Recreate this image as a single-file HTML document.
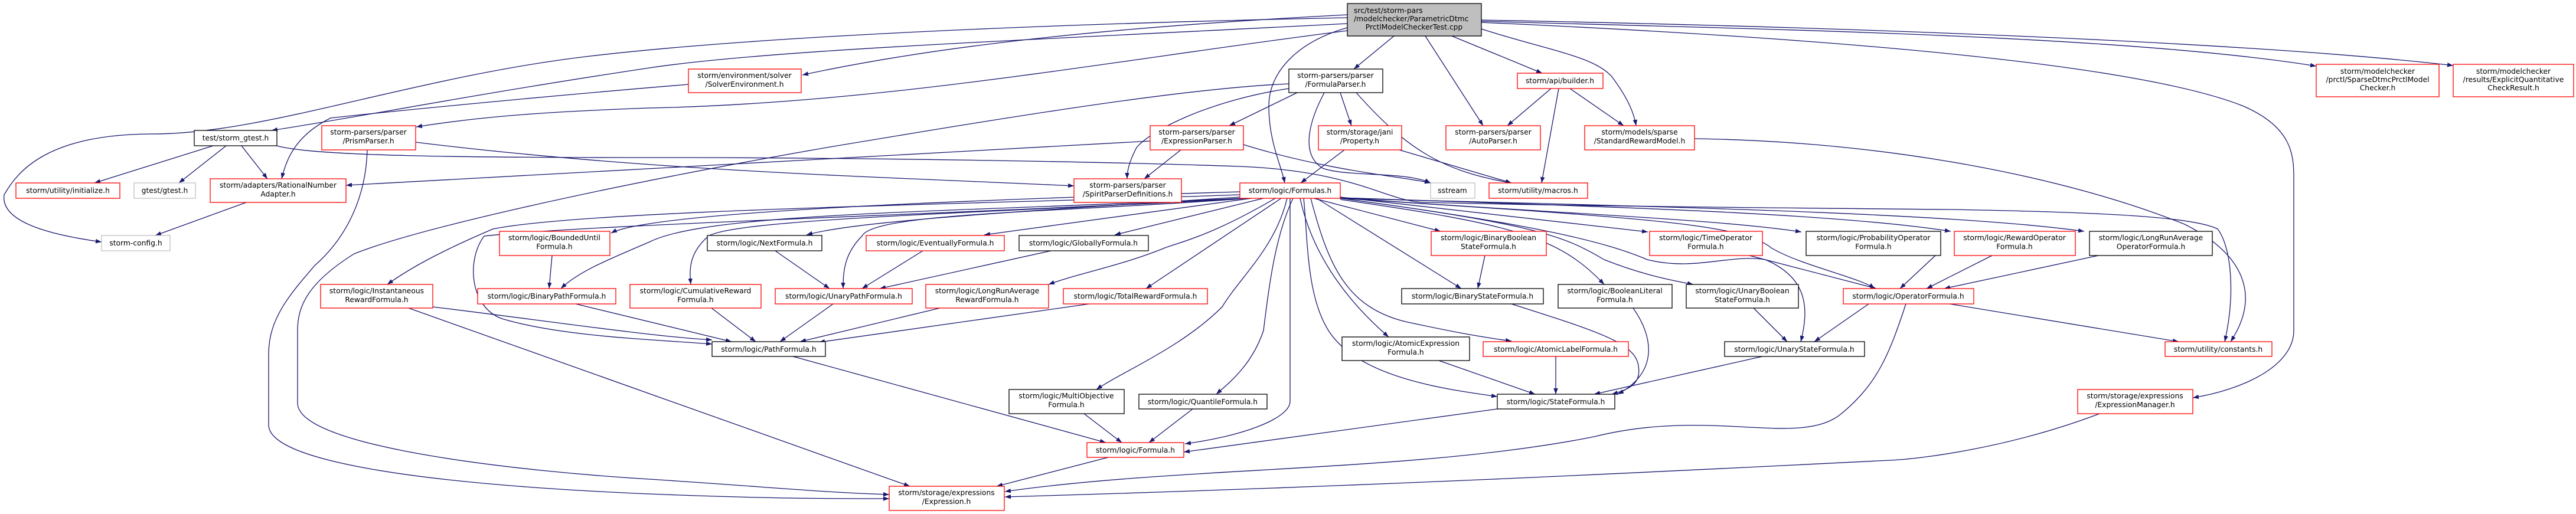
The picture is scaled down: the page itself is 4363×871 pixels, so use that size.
<!DOCTYPE html>
<html><head><meta charset="utf-8"><style>
html,body{margin:0;padding:0;background:#fff;}
svg{display:block;}
text{font-family:"DejaVu Sans","Liberation Sans",sans-serif;font-size:12.3px;fill:#000;}
.e{fill:none;stroke:#191970;stroke-width:1.3;marker-end:url(#a);}
.r{fill:#fff;stroke:#ff0000;stroke-width:1.3;}
.b{fill:#fff;stroke:#000;stroke-width:1.3;}
.g{fill:#fff;stroke:#bfbfbf;stroke-width:1.3;}
</style></head><body>
<svg width="4363" height="871" viewBox="0 0 4363 871" xmlns="http://www.w3.org/2000/svg">
<defs><marker id="a" markerUnits="userSpaceOnUse" markerWidth="11" markerHeight="8" refX="10" refY="3.7" orient="auto"><path d="M0,0 L10,3.7 L0,7.4 z" fill="#191970"/></marker></defs>
<g>
<!-- main edges -->
<path class="e" d="M2282,30 C1800,40 1300,60 1000,95 C700,130 450,227 260,227 C80,227 30,290 7,330 C0,380 100,400 172,410"/>
<path class="e" d="M2282,40 C1700,70 1300,85 1100,115 C800,160 600,200 460,221"/>
<path class="e" d="M2282,25 C1900,45 1600,75 1359,127"/>
<path class="e" d="M2282,52 C1900,100 1500,175 1100,183 C900,190 800,200 705,215"/>
<path class="e" d="M2282,47 C2200,70 2149,120 2149,180 C2149,240 2170,280 2176,310"/>
<path class="e" d="M2361,61 L2293,117"/>
<path class="e" d="M2414,61 L2512,213"/>
<path class="e" d="M2459,61 L2612,124"/>
<path class="e" d="M2509,49 C2620,85 2700,95 2730,130 C2760,170 2768,195 2771,213"/>
<path class="e" d="M2509,36 C3000,50 3600,60 3923,112"/>
<path class="e" d="M2509,34 C3100,45 3800,70 4155,111"/>
<path class="e" d="M2509,38 C3000,60 3600,100 3800,180 C3880,215 3885,260 3885,300 L3885,560 C3885,620 3800,660 3714,674"/>
<!-- parser edges -->
<path class="e" d="M2183,142 C2000,150 1700,200 1400,250 C1000,320 700,390 600,430 C520,480 504,520 504,560 L504,683 C504,760 900,800 1100,812 C1300,825 1400,835 1506,838"/>
<path class="e" d="M622,254 C620,330 590,400 533,450 C490,500 455,540 455,600 L455,720 C455,780 700,820 1100,837 C1300,845 1400,845 1506,845"/>
<path class="e" d="M2197,157 L2082,213"/>
<path class="e" d="M2183,150 C2050,170 1950,220 1925,250 C1912,275 1909,290 1909,303"/>
<path class="e" d="M2270,157 L2289,213"/>
<path class="e" d="M2243,157 C2220,200 2200,260 2240,285 C2280,300 2380,290 2423,310"/>
<path class="e" d="M2297,157 C2380,250 2440,290 2560,310"/>
<path class="e" d="M1948,239 C1700,255 1000,290 586,314"/>
<path class="e" d="M2000,254 L1938,303"/>
<path class="e" d="M2106,245 C2250,290 2380,300 2423,310"/>
<path class="e" d="M704,241 C1100,290 1500,300 1819,315"/>
<path class="e" d="M361,247 L160,310"/>
<path class="e" d="M383,247 L303,310"/>
<path class="e" d="M409,247 L453,303"/>
<path class="e" d="M469,247 C530,265 800,267 1100,267 C1500,267 1900,275 2100,282 C2300,290 2350,343 2415,343 C2700,350 3100,353 3300,355 C3600,360 3720,370 3756,388 C3780,420 3786,500 3768,579"/>
<path class="e" d="M417,343 L263,399"/>
<path class="e" d="M2277,254 L2203,310"/>
<path class="e" d="M2370,254 L2560,310"/>
<path class="e" d="M2627,150 L2553,213"/>
<path class="e" d="M2659,150 L2750,213"/>
<path class="e" d="M2640,150 L2611,310"/>
<path class="e" d="M2870,235 C3200,240 3500,300 3700,380 C3800,430 3830,500 3778,579"/>
<path class="e" d="M1166,143 C900,165 650,190 560,200 C500,230 485,270 477,303"/>
<!-- Formulas edges -->
<path class="e" d="M2100,325 C1600,340 1100,360 1035,395"/>
<path class="e" d="M2100,330 C1700,345 1000,355 835,388 C760,420 700,450 656,482"/>
<path class="e" d="M2105,336 C1600,360 1200,360 1100,410 C1030,440 980,460 950,489"/>
<path class="e" d="M2110,336 C1700,360 1000,380 820,400 C790,440 795,520 850,540 C950,570 1100,575 1206,583"/>
<path class="e" d="M2110,336 C1700,360 1250,370 1200,400 C1165,430 1168,460 1170,482"/>
<path class="e" d="M2115,336 C1800,360 1480,360 1460,400 C1430,430 1428,460 1428,489"/>
<path class="e" d="M2100,334 C1700,360 1450,375 1366,398"/>
<path class="e" d="M2120,336 L1667,398"/>
<path class="e" d="M2140,336 L1888,398"/>
<path class="e" d="M2160,336 C2050,400 2000,410 1973,420 C1900,450 1820,465 1776,482"/>
<path class="e" d="M2170,336 L1941,489"/>
<path class="e" d="M2180,336 C2160,420 2100,470 2070,520 C2000,590 1900,630 1857,660"/>
<path class="e" d="M2190,336 C2160,400 2150,480 2140,560 C2120,620 2080,650 2060,668"/>
<path class="e" d="M2185,336 L2185,680 C2185,710 2100,740 2007,752"/>
<path class="e" d="M2208,336 C2215,400 2212,500 2250,560 C2300,640 2450,660 2536,672"/>
<path class="e" d="M2202,336 C2220,420 2270,500 2352,571"/>
<path class="e" d="M2220,336 C2250,450 2280,520 2380,545 C2450,560 2500,570 2560,578"/>
<path class="e" d="M2230,336 L2475,489"/>
<path class="e" d="M2225,336 L2440,392"/>
<path class="e" d="M2270,338 C2560,380 2640,400 2717,482"/>
<path class="e" d="M2270,336 C2600,380 2650,400 2717,440 C2780,465 2830,475 2868,482"/>
<path class="e" d="M2270,334 L2791,393"/>
<path class="e" d="M2270,335 C2600,360 2900,370 3051,393"/>
<path class="e" d="M2270,335 C2700,350 3100,360 3304,392"/>
<path class="e" d="M2270,336 C2800,350 3300,360 3530,392"/>
<path class="e" d="M2270,336 C2800,370 2950,380 3000,420 C3050,450 3150,470 3175,489"/>
<path class="e" d="M2270,336 C2600,380 2720,410 2790,440 C2870,460 2930,430 2990,440 C3060,470 3065,520 3050,579"/>
<!-- logic edges -->
<path class="e" d="M2963,433 L3178,489"/>
<path class="e" d="M3278,433 L3218,489"/>
<path class="e" d="M3374,433 L3263,489"/>
<path class="e" d="M3554,433 L3293,489"/>
<path class="e" d="M3165,515 L3073,579"/>
<path class="e" d="M3302,515 L3690,579"/>
<path class="e" d="M3228,515 C3200,600 3180,650 3120,700 C3050,760 2900,690 2700,740 C2400,800 2000,790 1702,833"/>
<path class="e" d="M935,433 L930,489"/>
<path class="e" d="M975,515 L1239,579"/>
<path class="e" d="M733,520 C900,540 1100,570 1206,576"/>
<path class="e" d="M692,522 L1541,824"/>
<path class="e" d="M1205,522 L1280,579"/>
<path class="e" d="M1411,515 L1321,579"/>
<path class="e" d="M1592,522 L1355,579"/>
<path class="e" d="M1845,515 L1387,580"/>
<path class="e" d="M1313,425 L1405,489"/>
<path class="e" d="M1563,425 L1460,489"/>
<path class="e" d="M1780,425 L1490,489"/>
<path class="e" d="M1343,604 L1873,750"/>
<path class="e" d="M1836,701 L1900,750"/>
<path class="e" d="M2020,693 L1946,750"/>
<path class="e" d="M2536,693 L2005,766"/>
<path class="e" d="M1877,775 L1688,824"/>
<path class="e" d="M3556,701 C3400,760 3250,778 3200,780 C2800,800 2300,825 1702,842"/>
<path class="e" d="M2515,433 L2503,489"/>
<path class="e" d="M2560,515 C2700,560 2770,580 2775,620 C2780,650 2760,660 2730,668"/>
<path class="e" d="M2766,522 C2800,570 2810,630 2740,668"/>
<path class="e" d="M2970,522 L3027,579"/>
<path class="e" d="M2985,604 L2700,668"/>
<path class="e" d="M2437,611 L2600,668"/>
<path class="e" d="M2635,604 L2635,668"/>
</g>
<g text-anchor="middle">
<rect x="2282" y="6" width="227" height="55" fill="#bfbfbf" stroke="#000" stroke-width="1.3"/>
<text x="2293" y="22" text-anchor="start">src/test/storm-pars</text><text x="2293" y="36" text-anchor="start">/modelchecker/ParametricDtmc</text><text x="2395" y="50">PrctlModelCheckerTest.cpp</text>

<rect class="b" x="2183" y="117" width="159" height="40"/><text x="2262" y="132">storm-parsers/parser</text><text x="2262" y="147">/FormulaParser.h</text>
<rect class="r" x="2233" y="213" width="141" height="41"/><text x="2303" y="228">storm/storage/jani</text><text x="2303" y="243">/Property.h</text>
<rect class="r" x="2449" y="213" width="160" height="41"/><text x="2529" y="228">storm-parsers/parser</text><text x="2529" y="243">/AutoParser.h</text>
<rect class="r" x="2570" y="124" width="145" height="26"/><text x="2642" y="141">storm/api/builder.h</text>
<rect class="r" x="2684" y="213" width="186" height="41"/><text x="2777" y="228">storm/models/sparse</text><text x="2777" y="243">/StandardRewardModel.h</text>
<rect class="r" x="2100" y="310" width="170" height="26"/><text x="2185" y="327">storm/logic/Formulas.h</text>
<rect class="g" x="2423" y="310" width="75" height="26"/><text x="2460" y="327">sstream</text>
<rect class="r" x="2522" y="310" width="167" height="26"/><text x="2605" y="327">storm/utility/macros.h</text>
<rect class="r" x="2424" y="392" width="195" height="41"/><text x="2521" y="407">storm/logic/BinaryBoolean</text><text x="2521" y="422">StateFormula.h</text>
<rect class="r" x="2794" y="392" width="191" height="41"/><text x="2889" y="407">storm/logic/TimeOperator</text><text x="2889" y="422">Formula.h</text>
<rect class="b" x="3059" y="392" width="228" height="41"/><text x="3173" y="407">storm/logic/ProbabilityOperator</text><text x="3173" y="422">Formula.h</text>
<rect class="r" x="3310" y="392" width="205" height="41"/><text x="3412" y="407">storm/logic/RewardOperator</text><text x="3412" y="422">Formula.h</text>
<rect class="b" x="3539" y="392" width="208" height="41"/><text x="3643" y="407">storm/logic/LongRunAverage</text><text x="3643" y="422">OperatorFormula.h</text>
<rect class="r" x="3923" y="109" width="208" height="55"/><text x="4027" y="125">storm/modelchecker</text><text x="4027" y="139">/prctl/SparseDtmcPrctlModel</text><text x="4027" y="153">Checker.h</text>
<rect class="r" x="4155" y="109" width="204" height="55"/><text x="4257" y="125">storm/modelchecker</text><text x="4257" y="139">/results/ExplicitQuantitative</text><text x="4257" y="153">CheckResult.h</text>
<rect class="r" x="1166" y="117" width="191" height="40"/><text x="1261" y="132">storm/environment/solver</text><text x="1261" y="147">/SolverEnvironment.h</text>
<rect class="r" x="1948" y="213" width="158" height="41"/><text x="2027" y="228">storm-parsers/parser</text><text x="2027" y="243">/ExpressionParser.h</text>
<rect class="r" x="1819" y="303" width="182" height="40"/><text x="1910" y="318">storm-parsers/parser</text><text x="1910" y="333">/SpiritParserDefinitions.h</text>
<rect class="b" x="1198" y="399" width="194" height="26"/><text x="1295" y="416">storm/logic/NextFormula.h</text>
<rect class="r" x="1467" y="399" width="234" height="26"/><text x="1584" y="416">storm/logic/EventuallyFormula.h</text>
<rect class="b" x="1726" y="399" width="219" height="26"/><text x="1835" y="416">storm/logic/GloballyFormula.h</text>
<rect class="b" x="329" y="221" width="140" height="26"/><text x="399" y="238">test/storm_gtest.h</text>
<rect class="r" x="545" y="213" width="159" height="41"/><text x="624" y="228">storm-parsers/parser</text><text x="624" y="243">/PrismParser.h</text>
<rect class="r" x="27" y="310" width="176" height="26"/><text x="115" y="327">storm/utility/initialize.h</text>
<rect class="g" x="227" y="310" width="104" height="26"/><text x="279" y="327">gtest/gtest.h</text>
<rect class="r" x="356" y="303" width="230" height="40"/><text x="471" y="318">storm/adapters/RationalNumber</text><text x="471" y="333">Adapter.h</text>
<rect class="g" x="172" y="399" width="116" height="26"/><text x="230" y="416">storm-config.h</text>
<rect class="r" x="846" y="392" width="187" height="41"/><text x="939" y="407">storm/logic/BoundedUntil</text><text x="939" y="422">Formula.h</text>
<rect class="r" x="543" y="482" width="190" height="40"/><text x="638" y="497">storm/logic/Instantaneous</text><text x="638" y="512">RewardFormula.h</text>
<rect class="r" x="809" y="489" width="234" height="26"/><text x="926" y="506">storm/logic/BinaryPathFormula.h</text>
<rect class="r" x="1067" y="482" width="222" height="40"/><text x="1178" y="497">storm/logic/CumulativeReward</text><text x="1178" y="512">Formula.h</text>
<rect class="r" x="1313" y="489" width="232" height="26"/><text x="1429" y="506">storm/logic/UnaryPathFormula.h</text>
<rect class="r" x="1568" y="482" width="208" height="40"/><text x="1672" y="497">storm/logic/LongRunAverage</text><text x="1672" y="512">RewardFormula.h</text>
<rect class="r" x="1801" y="489" width="244" height="26"/><text x="1923" y="506">storm/logic/TotalRewardFormula.h</text>
<rect class="b" x="1206" y="579" width="192" height="25"/><text x="1302" y="596">storm/logic/PathFormula.h</text>
<rect class="b" x="1709" y="660" width="195" height="41"/><text x="1806" y="675">storm/logic/MultiObjective</text><text x="1806" y="690">Formula.h</text>
<rect class="b" x="1929" y="668" width="217" height="25"/><text x="2037" y="685">storm/logic/QuantileFormula.h</text>
<rect class="r" x="1841" y="750" width="164" height="25"/><text x="1923" y="767">storm/logic/Formula.h</text>
<rect class="r" x="1506" y="824" width="195" height="41"/><text x="1603" y="839">storm/storage/expressions</text><text x="1603" y="854">/Expression.h</text>
<rect class="b" x="2374" y="489" width="240" height="26"/><text x="2494" y="506">storm/logic/BinaryStateFormula.h</text>
<rect class="b" x="2639" y="482" width="193" height="40"/><text x="2735" y="497">storm/logic/BooleanLiteral</text><text x="2735" y="512">Formula.h</text>
<rect class="b" x="2856" y="482" width="190" height="40"/><text x="2951" y="497">storm/logic/UnaryBoolean</text><text x="2951" y="512">StateFormula.h</text>
<rect class="r" x="3122" y="489" width="221" height="26"/><text x="3232" y="506">storm/logic/OperatorFormula.h</text>
<rect class="b" x="2273" y="571" width="216" height="40"/><text x="2381" y="586">storm/logic/AtomicExpression</text><text x="2381" y="601">Formula.h</text>
<rect class="r" x="2512" y="579" width="246" height="25"/><text x="2635" y="596">storm/logic/AtomicLabelFormula.h</text>
<rect class="b" x="2921" y="579" width="237" height="25"/><text x="3039" y="596">storm/logic/UnaryStateFormula.h</text>
<rect class="b" x="2536" y="668" width="199" height="25"/><text x="2635" y="685">storm/logic/StateFormula.h</text>
<rect class="r" x="3667" y="579" width="181" height="25"/><text x="3757" y="596">storm/utility/constants.h</text>
<rect class="r" x="3519" y="660" width="195" height="41"/><text x="3616" y="675">storm/storage/expressions</text><text x="3616" y="690">/ExpressionManager.h</text>
</g>
</svg>
</body></html>
